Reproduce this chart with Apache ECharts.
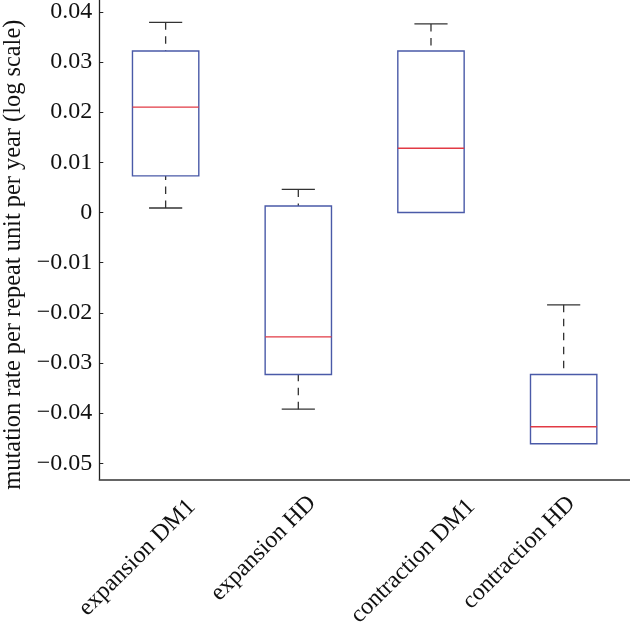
<!DOCTYPE html>
<html><head><meta charset="utf-8">
<script src="https://cdn.jsdelivr.net/npm/echarts@6/dist/echarts.min.js"></script>
<style>html,body{margin:0;padding:0;background:#fff}#c{width:630px;height:631px}</style>
</head><body><div id="c"></div>
<script>
const categories = ['expansion DM1', 'expansion HD', 'contraction DM1', 'contraction HD'];
const whiskerLow  = [0.0009, -0.0392, 0.0000, -0.0461];
const quartile1   = [0.0073, -0.0323, 0.0000, -0.0461];
const medians     = [0.0210, -0.0248, 0.0128, -0.0427];
const quartile3   = [0.0322,  0.0013, 0.0322, -0.0323];
const whiskerHigh = [0.0379,  0.0046, 0.0376, -0.0184];
const yTickValues = [-0.05, -0.04, -0.03, -0.02, -0.01, 0, 0.01, 0.02, 0.03, 0.04];
const yTickLabels = ['\u22120.05', '\u22120.04', '\u22120.03', '\u22120.02', '\u22120.01', '0', '0.01', '0.02', '0.03', '0.04'];
const yAxisTitle = 'mutation rate per repeat unit per year (log scale)';

const FONT = 'Liberation Serif';
const FS = 24;
const boxData = categories.map((c, i) => [i, whiskerLow[i], quartile1[i], medians[i], quartile3[i], whiskerHigh[i]]);

function renderBox(params, api) {
  const i = api.value(0);
  const band = api.size([1, 0])[0];
  const half = band * 0.25, capHalf = band * 0.125;
  const xc = api.coord([i, 0])[0];
  const yLo = api.coord([i, api.value(1)])[1];
  const yQ1 = api.coord([i, api.value(2)])[1];
  const yMed = api.coord([i, api.value(3)])[1];
  const yQ3 = api.coord([i, api.value(4)])[1];
  const yHi = api.coord([i, api.value(5)])[1];
  const wStyle = { stroke: '#333', lineWidth: 1.3, lineDash: [7.5, 6.5], fill: null };
  const cStyle = { stroke: '#333', lineWidth: 1.3, fill: null };
  const children = [];
  if (yQ3 - yHi > 0.5) {
    children.push({ type: 'line', shape: { x1: xc, y1: yHi, x2: xc, y2: yQ3 }, style: wStyle });
    children.push({ type: 'line', shape: { x1: xc - capHalf, y1: yHi, x2: xc + capHalf, y2: yHi }, style: cStyle });
  }
  if (yLo - yQ1 > 0.5) {
    children.push({ type: 'line', shape: { x1: xc, y1: yLo, x2: xc, y2: yQ1 }, style: wStyle });
    children.push({ type: 'line', shape: { x1: xc - capHalf, y1: yLo, x2: xc + capHalf, y2: yLo }, style: cStyle });
  }
  children.push({ type: 'rect', shape: { x: xc - half, y: yQ3, width: 2 * half, height: yQ1 - yQ3 }, style: { fill: null, stroke: '#4a5aa8', lineWidth: 1.4 } });
  children.push({ type: 'line', shape: { x1: xc - half, y1: yMed, x2: xc + half, y2: yMed }, style: { stroke: '#e23a44', lineWidth: 1.4 } });
  return { type: 'group', children };
}

function lab(pad) { return { fontFamily: FONT, fontSize: FS, color: '#111', padding: pad }; }

const chart = echarts.init(document.getElementById('c'), null, { renderer: 'canvas' });
chart.setOption({
  animation: false,
  backgroundColor: '#fff',
  grid: { left: 99.3, right: 0, top: 0, bottom: 151.7, containLabel: false, outerBoundsMode: 'none' },
  xAxis: {
    type: 'category', data: categories, boundaryGap: true,
    axisLine: { show: true, onZero: false, lineStyle: { color: '#333', width: 1.5 } },
    axisTick: { show: false },
    splitLine: { show: false },
    axisLabel: {
      interval: 0, rotate: 45, margin: 50,
      fontFamily: FONT, fontSize: FS, color: '#111',
      formatter: (v, idx) => '{l' + idx + '|' + v + '}',
      rich: {
        l0: lab([0, -36.9, 0, 0]),
        l1: lab([0, -31.0, 22.4, 0]),
        l2: lab([19.8, -47.1, 0, 0]),
        l3: lab([0, -26.2, 30.2, 0])
      }
    }
  },
  yAxis: {
    type: 'value', min: -0.05318, max: 0.04236,
    axisLine: { show: true, lineStyle: { color: '#222', width: 1.3 } },
    axisTick: { show: true, inside: true, length: 4, customValues: yTickValues, lineStyle: { color: '#222', width: 1 } },
    splitLine: { show: false },
    axisLabel: {
      customValues: yTickValues, margin: 7,
      fontFamily: FONT, fontSize: FS, color: '#111',
      formatter: v => { const k = yTickValues.findIndex(t => Math.abs(t - v) < 1e-9); return k >= 0 ? yTickLabels[k] : ''; }
    },
    name: yAxisTitle, nameLocation: 'middle', nameGap: 73,
    nameTextStyle: { fontFamily: FONT, fontSize: 24.4, color: '#111', padding: [0, 30, 0, 0] }
  },
  series: [{
    type: 'custom',
    renderItem: renderBox,
    encode: { x: 0, y: [1, 2, 3, 4, 5] },
    data: boxData
  }]
});
</script>
</body></html>
